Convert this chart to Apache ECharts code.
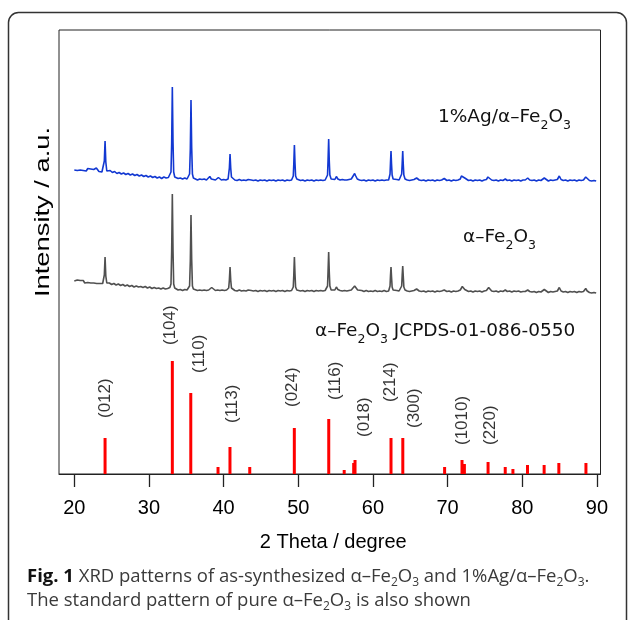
<!DOCTYPE html>
<html><head><meta charset="utf-8">
<script src="https://cdn.jsdelivr.net/npm/echarts@6/dist/echarts.min.js"></script>
<style>html,body{margin:0;padding:0;background:#fff}#c{width:629px;height:620px}</style>
</head><body><div id="c"></div>
<script>
// x-axis ticks (2 theta, degree)
const xTicks = [20, 30, 40, 50, 60, 70, 80, 90];

// 1%Ag/α-Fe2O3 pattern [2θ, intensity a.u.]
const agPattern = [
[20.0,304],[20.2,306],[20.4,303.5],[20.6,305.5],[20.8,304],[21.0,306],[21.2,303.5],[21.4,305],[21.6,303],[21.8,305.5],[22.0,303.5],[22.2,305],[22.4,303],[22.6,304.5],[22.8,303],[22.95,306],[23.05,308],[23.15,304],[23.3,302.5],[23.5,304],[23.7,302],[23.85,303.5],
[23.92,304],[24.02,313],[24.12,333],[24.22,312],[24.35,303],
[24.5,302],[24.8,303.5],[25.1,301.5],[25.4,302.5],[25.7,300.5],[26.0,301.5],[26.3,300],[26.6,301],[26.9,299.5],[27.2,300.5],[27.5,299],[27.8,300],[28.1,298.5],[28.4,299.5],[28.7,298],[29.0,299],[29.3,297.5],[29.6,298.5],[29.9,297],[30.2,298],[30.5,296.5],[30.8,297.5],[31.1,296],[31.4,297],[31.7,295.5],[32.0,297],[32.3,296],[32.6,296.5],[32.85,298],
[32.95,302],[33.04,330],[33.13,387],[33.22,332],[33.31,302],[33.45,297],
[33.6,296.5],[33.9,295.5],[34.2,296],[34.5,295],[34.8,296],[35.1,295],[35.35,296.5],
[35.44,300],[35.54,325],[35.63,374],[35.72,327],[35.82,300],[35.95,296],
[36.2,295],[36.5,294],[36.8,295],[37.1,294.5],[37.4,295],[37.7,294],[37.95,295.5],[38.15,297.5],[38.35,295],[38.6,294.5],[38.9,294],[39.15,295.5],[39.3,296.5],[39.45,295],[39.7,294],[40.0,294.5],[40.3,294],[40.6,295],
[40.68,297],[40.77,306],[40.86,320],[40.95,306],[41.05,297],[41.2,295],
[41.5,294],[41.8,293.5],[42.1,294.5],[42.4,293.5],[42.7,294],[43.0,293.5],[43.3,294.5],[43.5,296],[43.7,294],[44.0,293.5],[44.3,294],[44.6,293],[44.9,294],[45.2,293.5],[45.5,294],[45.8,293],[46.1,294],[46.4,293.5],[46.7,294],[47.0,293],[47.3,294],[47.6,293.5],[47.9,294],[48.2,293],[48.5,294],[48.8,293.5],[49.1,294],[49.25,295],
[49.33,298],[49.4,310],[49.48,329],[49.56,311],[49.64,298],[49.8,295],
[50.0,294],[50.3,293.5],[50.6,294],[50.9,293],[51.2,294],[51.5,293.5],[51.8,294],[52.1,293],[52.4,294],[52.7,293.5],[53.0,294],[53.3,293.5],[53.6,294],[53.85,295],
[53.92,299],[53.99,314],[54.07,335],[54.15,313],[54.23,299],[54.4,295],
[54.6,294],[54.9,294.5],[55.1,297.5],[55.3,295],[55.6,294],[55.9,294.5],[56.2,294],[56.5,294],[56.8,294.5],[57.1,295],[57.35,297],[57.55,300.5],[57.7,298],[57.9,295],
[58.2,294],[58.5,293.5],[58.8,294],[59.1,293],[59.4,294],[59.7,293.5],[60.0,294],[60.3,293],[60.6,294],[60.9,293.5],[61.2,294],[61.5,293.5],[61.8,294],[62.1,294],[62.22,296],
[62.29,300],[62.35,311],[62.42,323],[62.49,310],[62.57,299],[62.7,295],
[62.9,294],[63.2,294.5],[63.5,294],[63.75,295.5],
[63.85,300],[63.92,311],[63.99,323],[64.06,310],[64.14,299],[64.3,295],
[64.6,294],[64.9,293.5],[65.2,294],[65.5,294.5],[65.85,296],[66.2,294],[66.5,293.5],[66.8,294],[67.1,293],[67.4,294],[67.7,293.5],[68.0,294],[68.3,293],[68.6,294],[68.9,293.5],[69.2,294],[69.55,295.5],[69.9,293.5],[70.2,294],[70.5,293],[70.8,294],[71.1,293.5],[71.4,294],[71.7,295],[71.85,298],[71.97,300],[72.1,298.5],[72.3,296],[72.5,294],[72.8,293.5],[73.1,294],[73.4,293],[73.7,294],[74.0,293.5],[74.3,294],[74.6,293],[74.9,294],[75.2,294.5],[75.4,297],[75.5,298],[75.65,296],[75.9,294],[76.2,293.5],[76.5,294],[76.8,293],[77.1,294],[77.4,293.5],[77.73,295],[78.0,293.5],[78.3,294],[78.6,293],[78.9,294],[79.2,293.5],[79.5,294],[79.8,293],[80.1,294],[80.4,294],[80.73,296],[81.0,294],[81.3,293.5],[81.6,294],[81.9,293],[82.2,294],[82.5,293.5],[82.95,296],[83.2,294],[83.5,293],[83.8,294],[84.1,293.5],[84.4,294],[84.7,294.5],[84.96,298],[85.2,294.5],[85.5,293.5],[85.8,294],[86.1,293],[86.4,294],[86.7,293.5],[87.0,294],[87.3,293],[87.6,294],[87.9,293.5],[88.2,294],[88.5,297],[88.7,295],[89.0,293.5],[89.3,293],[89.6,293.5],[89.9,293]
];

// α-Fe2O3 pattern [2θ, intensity a.u.]
const fePattern = [
[20.0,193],[20.2,191.5],[20.4,194],[20.6,192],[20.8,193.5],[21.0,191.5],[21.2,193.5],[21.4,191],[21.6,193],[21.8,191.5],[22.0,193],[22.2,191],[22.4,192.5],[22.6,191],[22.8,192.5],[23.0,190.5],[23.2,192],[23.4,190.5],[23.6,192],[23.8,190.5],[23.92,191.5],
[24.02,199],[24.12,217],[24.22,198],[24.35,191],
[24.7,191],[25.0,189.5],[25.3,190.5],[25.6,189],[25.9,190],[26.2,188.5],[26.5,189.5],[26.8,188],[27.1,189],[27.4,187.5],[27.7,188.5],[28.0,187],[28.3,188],[28.6,187],[28.9,187.5],[29.2,186.5],[29.5,187.5],[29.8,186],[30.1,187],[30.4,185.5],[30.7,186.5],[31.0,185.5],[31.3,186],[31.6,185],[31.9,186],[32.2,185],[32.5,185.5],[32.8,186.5],
[32.95,190],[33.04,222],[33.13,280],[33.22,224],[33.31,190],[33.45,186],
[33.6,184.5],[33.9,184],[34.2,184.5],[34.5,183.5],[34.8,184.5],[35.1,184],[35.35,185],
[35.44,188],[35.54,213],[35.63,259],[35.72,215],[35.82,188],[35.95,185],
[36.2,184],[36.5,183.5],[36.8,184],[37.1,183.5],[37.4,184],[37.7,183.5],[38.0,184],[38.2,185],[38.4,186.5],[38.6,184.5],[38.9,183.5],[39.2,184],[39.5,183.5],[39.8,184],[40.1,183.5],[40.4,184],[40.6,184.5],
[40.68,186],[40.77,194],[40.86,207],[40.95,194],[41.05,186],[41.2,184],
[41.5,183.5],[41.8,183],[42.1,184],[42.4,183],[42.7,183.5],[43.0,183],[43.3,184],[43.5,185],[43.7,183.5],[44.0,183],[44.3,183.5],[44.6,182.5],[44.9,183.5],[45.2,183],[45.5,183.5],[45.8,182.5],[46.1,183.5],[46.4,183],[46.7,183.5],[47.0,182.5],[47.3,183.5],[47.6,183],[47.9,183.5],[48.2,182.5],[48.5,183.5],[48.8,183],[49.1,183.5],[49.25,184.5],
[49.33,187],[49.4,199],[49.48,217],[49.56,200],[49.64,187],[49.8,184],
[50.0,183.5],[50.3,183],[50.6,183.5],[50.9,182.5],[51.2,183.5],[51.5,183],[51.8,183.5],[52.1,182.5],[52.4,183.5],[52.7,183],[53.0,183.5],[53.3,183],[53.6,183.5],[53.85,184.5],
[53.92,188],[53.99,203],[54.07,222],[54.15,202],[54.23,188],[54.4,184],
[54.6,183],[54.9,184],[55.1,187],[55.3,184.5],[55.6,183.5],[55.9,183],[56.2,183.5],[56.5,183],[56.8,183.5],[57.1,184],[57.35,186],[57.55,188],[57.75,186],[57.95,184],[58.2,183],[58.5,183.5],[58.8,182.5],[59.1,183.5],[59.4,182.5],[59.7,183],[60.0,182.5],[60.3,183.5],[60.6,182.5],[60.9,183],[61.2,182.5],[61.5,183.5],[61.8,182.5],[62.1,183],[62.22,184.5],
[62.29,188],[62.35,198],[62.42,207],[62.49,197],[62.57,187],[62.7,184],
[62.9,183],[63.2,183.5],[63.5,183],[63.75,184.5],
[63.85,188],[63.92,199],[63.99,208],[64.06,198],[64.14,187],[64.3,184],
[64.6,183],[64.9,182.5],[65.2,183],[65.5,183.5],[65.85,185],[66.2,183],[66.5,182.5],[66.8,183],[67.1,182],[67.4,183],[67.7,182.5],[68.0,183],[68.3,182],[68.6,183],[68.9,182.5],[69.2,183],[69.55,184],[69.9,182.5],[70.2,183],[70.5,182],[70.8,183],[71.1,182.5],[71.4,183],[71.7,184],[71.85,186],[71.97,187.5],[72.1,186],[72.3,184.5],[72.5,183],[72.8,182.5],[73.1,183],[73.4,182],[73.7,183],[74.0,182.5],[74.3,183],[74.6,182],[74.9,183],[75.2,183.5],[75.4,185.5],[75.5,186.5],[75.65,184.5],[75.9,183],[76.2,182.5],[76.5,183],[76.8,182],[77.1,183],[77.4,182.5],[77.73,184],[78.0,182.5],[78.3,183],[78.6,182],[78.9,183],[79.2,182.5],[79.5,183],[79.8,182],[80.1,182.5],[80.4,182.5],[80.73,184],[81.0,182.5],[81.3,182],[81.6,182.5],[81.9,181.5],[82.2,182.5],[82.5,182],[82.95,184.5],[83.2,182.5],[83.5,181.5],[83.8,182.5],[84.1,182],[84.4,182.5],[84.7,183],[84.96,186.5],[85.2,183],[85.5,182],[85.8,182.5],[86.1,181.5],[86.4,182.5],[86.7,182],[87.0,182.5],[87.3,181.5],[87.6,182.5],[87.9,182],[88.2,182.5],[88.5,185.5],[88.7,183],[89.0,181.5],[89.3,181],[89.6,181.5],[89.9,181]
];

// JCPDS-01-086-0550 reference lines
const refTheta     = [24.12, 33.13, 35.60, 39.25, 40.85, 43.50, 49.47, 54.08, 56.15, 57.42, 57.60, 62.42, 64.00, 69.60, 71.93, 72.25, 75.42, 77.72, 78.75, 80.70, 82.93, 84.90, 88.53];
const refIntensity = [36, 113, 81, 7, 27, 7, 46, 55, 4, 11, 14, 36, 36, 7, 14, 10, 12, 7, 5, 9, 9, 11, 11];

// Miller index labels
const hklText  = ['(012)', '(104)', '(110)', '(113)', '(024)', '(116)', '(018)', '(214)', '(300)', '(1010)', '(220)'];
const hklTheta = [24.21, 32.82, 36.70, 41.16, 49.20, 55.01, 58.80, 62.38, 65.50, 71.97, 75.68];
const hklBase  = [56, 129, 101, 51, 67, 74, 37, 72, 46, 29, 29];

const chart = echarts.init(document.getElementById('c'), null, {renderer: 'canvas'});

const annoRich = {
  m: {fontFamily: 'DejaVu Sans', fontSize: 18.5, lineHeight: 30, fill: '#111'},
  s: {fontFamily: 'DejaVu Sans', fontSize: 12.5, lineHeight: 12, verticalAlign: 'bottom', fill: '#111'}
};
const capRich = {
  b: {fontFamily: 'Open Sans', fontSize: 18.5, fontWeight: 'bold', lineHeight: 24, fill: '#111'},
  r: {fontFamily: 'Open Sans', fontSize: 18.5, lineHeight: 24, fill: '#3a3a3a'},
  s: {fontFamily: 'Open Sans', fontSize: 12, lineHeight: 11, verticalAlign: 'bottom', fill: '#3a3a3a'}
};

chart.setOption({
  animation: false,
  backgroundColor: '#fff',
  grid: {left: 59, right: 28.5, top: 30, bottom: 146, show: true, borderColor: '#222', borderWidth: 1, backgroundColor: 'transparent'},
  xAxis: {
    type: 'value', min: 17.95, max: 90.48,
    axisLine: {show: true, lineStyle: {color: '#222', width: 1}},
    axisTick: {show: true, inside: false, length: 13, customValues: xTicks, lineStyle: {color: '#222', width: 1.3}},
    axisLabel: {customValues: xTicks, margin: 24, fontSize: 20, fontFamily: 'Liberation Sans', color: '#000'},
    splitLine: {show: false},
    name: '2 Theta / degree', nameLocation: 'middle', nameGap: 58,
    nameTextStyle: {fontSize: 20, fontFamily: 'Liberation Sans', color: '#000', padding: [0, 0, 0, 7]}
  },
  yAxis: {
    type: 'value', min: 0, max: 444,
    axisLine: {show: false}, axisTick: {show: false}, axisLabel: {show: false}, splitLine: {show: false}
  },
  series: [
    {
      name: 'JCPDS-01-086-0550', type: 'bar', barWidth: 3, z: 2,
      itemStyle: {color: '#ff0000'},
      data: refTheta.map((t, i) => [t, refIntensity[i]])
    },
    {
      name: 'hkl', type: 'scatter', symbolSize: 1, silent: true, z: 3,
      itemStyle: {color: 'rgba(0,0,0,0)'},
      label: {show: true, position: 'inside', rotate: 90, align: 'left', verticalAlign: 'middle',
              formatter: '{b}', fontSize: 17, fontFamily: 'Liberation Sans', color: '#000'},
      data: hklTheta.map((t, i) => ({name: hklText[i], value: [t, hklBase[i]]}))
    },
    {
      name: 'α-Fe2O3', type: 'line', showSymbol: false, z: 4,
      lineStyle: {color: '#505050', width: 1.6}, itemStyle: {color: '#505050'},
      data: fePattern
    },
    {
      name: '1%Ag/α-Fe2O3', type: 'line', showSymbol: false, z: 5,
      lineStyle: {color: '#1238d2', width: 1.6}, itemStyle: {color: '#1238d2'},
      data: agPattern
    }
  ],
  graphic: [
    {type: 'rect', z: -10, shape: {x: 8.5, y: 12.5, width: 618, height: 700, r: 10},
     style: {fill: 'none', stroke: '#333', lineWidth: 1.5}},
    {type: 'text', x: 43, y: 212, rotation: Math.PI / 2, scaleX: 1.3,
     style: {text: 'Intensity / a.u.', fontFamily: 'Liberation Sans', fontSize: 21, fill: '#000', align: 'center', verticalAlign: 'middle'}},
    {type: 'text', x: 438, y: 117,
     style: {text: '{m|1%Ag/α–Fe}{s|2}{m|O}{s|3}', rich: annoRich, align: 'left', verticalAlign: 'middle'}},
    {type: 'text', x: 463, y: 237,
     style: {text: '{m|α–Fe}{s|2}{m|O}{s|3}', rich: annoRich, align: 'left', verticalAlign: 'middle'}},
    {type: 'text', x: 315, y: 331,
     style: {text: '{m|α–Fe}{s|2}{m|O}{s|3}{m| JCPDS-01-086-0550}', rich: annoRich, align: 'left', verticalAlign: 'middle'}},
    {type: 'text', x: 27, y: 577,
     style: {text: '{b|Fig. 1}{r| XRD patterns of as-synthesized α–Fe}{s|2}{r|O}{s|3}{r| and 1%Ag/α–Fe}{s|2}{r|O}{s|3}{r|.}', rich: capRich, align: 'left', verticalAlign: 'middle'}},
    {type: 'text', x: 27, y: 601,
     style: {text: '{r|The standard pattern of pure α–Fe}{s|2}{r|O}{s|3}{r| is also shown}', rich: capRich, align: 'left', verticalAlign: 'middle'}}
  ]
});
</script></body></html>
